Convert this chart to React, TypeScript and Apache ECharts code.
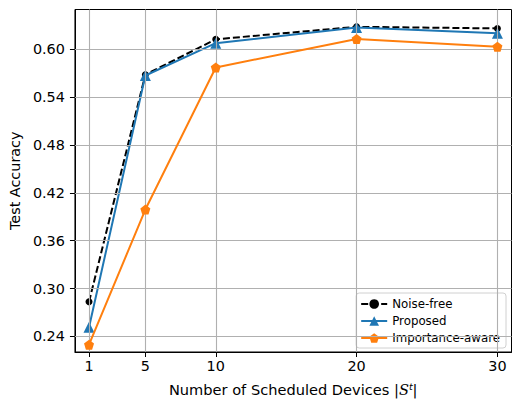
import React, { useEffect, useRef } from "react";
import * as echarts from "echarts";

const xValues = [1, 5, 10, 20, 30];
const noiseFree = [0.2834, 0.568, 0.6124, 0.628, 0.626];
const proposed = [0.2515, 0.567, 0.6075, 0.627, 0.62];
const importanceAware = [0.2296, 0.399, 0.577, 0.6128, 0.603];
const yTicks = [0.24, 0.3, 0.36, 0.42, 0.48, 0.54, 0.6];

const pentagon = "path://M0,-1 L0.951,-0.309 L0.588,0.809 L-0.588,0.809 L-0.951,-0.309 Z";

export default function App() {
  const ref = useRef<HTMLDivElement>(null);
  useEffect(() => {
    const chart = echarts.init(ref.current!, null, { renderer: "svg" });
    const pts = (ys: number[]) => xValues.map((x, i) => [x, ys[i]]);
    chart.setOption({
      animation: false,
      backgroundColor: "#fff",
      textStyle: { fontFamily: "DejaVu Sans" },
      grid: {
        left: 73,
        top: 9.5,
        right: 1.5,
        bottom: 47,
        show: true,
        borderColor: "#000",
        borderWidth: 1,
      },
      legend: {
        right: 7,
        top: 293,
        orient: "vertical",
        itemWidth: 26,
        itemHeight: 12,
        itemGap: 5,
        padding: [5, 6, 4, 4],
        borderColor: "#d0d0d0",
        borderWidth: 1,
        borderRadius: 3,
        backgroundColor: "rgba(255,255,255,0.8)",
        textStyle: { fontSize: 11.8, color: "#000", fontFamily: "DejaVu Sans" },
        data: ["Noise-free", "Proposed", "Importance-aware"],
      },
      xAxis: {
        type: "value",
        min: 0,
        max: 31,
        name: "Number of Scheduled Devices |{s|S}{sup|t}|",
        nameLocation: "middle",
        nameGap: 29,
        nameTextStyle: {
          fontSize: 14.6,
          color: "#000",
          rich: {
            s: { fontSize: 14.6, fontStyle: "italic", fontFamily: "DejaVu Serif", color: "#000" },
            sup: { fontSize: 9.5, fontStyle: "italic", verticalAlign: "top", padding: [0, 0, 7, 0], color: "#000" },
          },
        },
        axisLine: { show: true, lineStyle: { color: "#000" } },
        axisTick: {
          show: true,
          length: 5,
          lineStyle: { color: "#000" },
          customValues: xValues,
        },
        axisLabel: {
          fontSize: 14.4,
          color: "#000",
          margin: 7,
          customValues: xValues,
        },
        splitLine: { show: false },
      },
      yAxis: {
        type: "value",
        min: 0.2205,
        max: 0.6497,
        name: "Test Accuracy",
        nameLocation: "middle",
        nameGap: 52,
        nameTextStyle: { fontSize: 14.4, color: "#000" },
        axisLine: { show: true, lineStyle: { color: "#000" } },
        axisTick: {
          show: true,
          length: 5,
          lineStyle: { color: "#000" },
          customValues: yTicks,
        },
        axisLabel: {
          fontSize: 14.4,
          color: "#000",
          margin: 10,
          customValues: yTicks,
          formatter: (v: number) => v.toFixed(2),
        },
        splitLine: { show: false },
      },
      series: [
        {
          name: "grid-x",
          type: "line",
          data: [],
          silent: true,
          markLine: {
            silent: true,
            symbol: "none",
            label: { show: false },
            lineStyle: { color: "#b0b0b0", type: "solid", width: 1.1 },
            data: [
              ...xValues.map((x) => ({ xAxis: x })),
              ...yTicks.map((y) => ({ yAxis: y })),
            ],
          },
        },
        {
          name: "Noise-free",
          type: "line",
          data: pts(noiseFree),
          color: "#000000",
          symbol: "circle",
          symbolSize: 7,
          lineStyle: { color: "#000", width: 2, type: [7, 3] },
          itemStyle: { color: "#000" },
          z: 3,
        },
        {
          name: "Proposed",
          type: "line",
          data: pts(proposed),
          color: "#1f77b4",
          symbol: "triangle",
          symbolSize: 11,
          lineStyle: { color: "#1f77b4", width: 2 },
          itemStyle: { color: "#1f77b4" },
          z: 4,
        },
        {
          name: "Importance-aware",
          type: "line",
          data: pts(importanceAware),
          color: "#ff7f0e",
          symbol: pentagon,
          symbolSize: 10,
          lineStyle: { color: "#ff7f0e", width: 2 },
          itemStyle: { color: "#ff7f0e" },
          z: 5,
        },
      ],
    });
    return () => chart.dispose();
  }, []);
  return <div ref={ref} style={{ width: 513, height: 402, position: "absolute", left: 0, top: 0 }} />;
}
